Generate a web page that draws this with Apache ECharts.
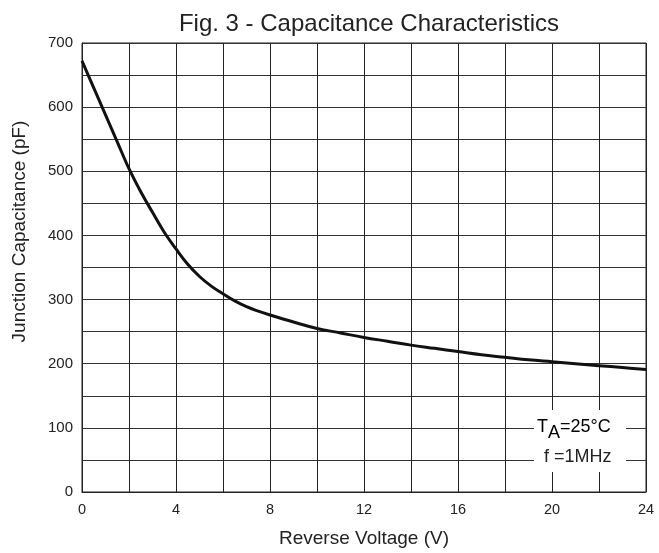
<!DOCTYPE html>
<html><head><meta charset="utf-8">
<script src="https://cdn.jsdelivr.net/npm/echarts@6/dist/echarts.min.js"></script>
<style>html,body{margin:0;padding:0;background:#fff}#c{width:659px;height:553px}</style>
</head><body><div id="c"></div>
<script>
const titleText = 'Fig. 3 - Capacitance Characteristics';
const xName = 'Reverse Voltage (V)';
const yName = 'Junction Capacitance (pF)';
const voltage = [0,0.5,1,1.5,2,2.5,3,3.5,4,4.5,5,5.5,6,6.5,7,7.5,8,9,10,11,12,13,14,15,16,17,18,19,20,21,22,23,24];
const capacitance = [672,630,588,546,504,468,436,405,379,355,336,321,309,298,289,282,276,265,255,248,241,235,229,224,219,214,210,206,203,200,197,194,191];
const noteLine1 = {main:'T', sub:'A', rest:'=25°C'};
const noteLine2 = 'f =1MHz';

const chart = echarts.init(document.getElementById('c'), null, {renderer:'canvas'});
const font = 'Liberation Sans, Arial, sans-serif';
chart.setOption({
  animation:false,
  backgroundColor:'#fff',
  title:{text:titleText,left:364,textAlign:'center',top:7,textStyle:{fontFamily:font,fontSize:24,fontWeight:'normal',color:'#222'}},
  grid:{left:82,right:13,top:43,bottom:60,show:true,borderColor:'#222',borderWidth:1},
  xAxis:{type:'value',min:0,max:24,interval:2,name:xName,nameLocation:'middle',nameGap:37,
    nameTextStyle:{fontFamily:font,fontSize:19,color:'#222'},
    axisLine:{show:true,lineStyle:{color:'#222'}},axisTick:{show:false},
    axisLabel:{fontFamily:font,fontSize:14.5,color:'#222',margin:10,formatter:v=>(v%4===0?String(v):'')},
    splitLine:{show:true,lineStyle:{color:'#222',width:1}}},
  yAxis:{type:'value',min:0,max:700,interval:50,name:yName,nameLocation:'middle',nameGap:53,
    nameTextStyle:{fontFamily:font,fontSize:19,color:'#222',padding:[0,0,0,72]},
    axisLine:{show:true,lineStyle:{color:'#222'}},axisTick:{show:false},
    axisLabel:{fontFamily:font,fontSize:15,color:'#222',margin:9,formatter:v=>(v%100===0?String(v):'')},
    splitLine:{show:true,lineStyle:{color:'#333',width:1}}},
  series:[{type:'line',data:voltage.map((v,i)=>[v,capacitance[i]]),smooth:0.4,showSymbol:false,
    lineStyle:{color:'#111',width:3},z:5}],
  graphic:[
    {type:'rect',left:534,top:410,shape:{width:92,height:62},style:{fill:'#fff'},z:10},
    {type:'text',left:537,top:418,z:11,style:{text:'{a|'+noteLine1.main+'}{s|'+noteLine1.sub+'}{a|'+noteLine1.rest+'}',
      rich:{a:{fontFamily:font,fontSize:18,color:'#222'},s:{fontFamily:font,fontSize:18,color:'#222',padding:[12,0,0,0]}}}},
    {type:'text',left:544,top:448,z:11,style:{text:noteLine2,fontFamily:font,fontSize:18,fill:'#222'}}
  ]
});
</script></body></html>
